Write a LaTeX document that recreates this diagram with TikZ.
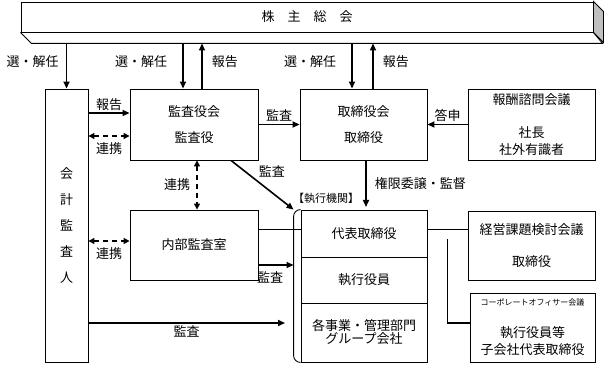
\documentclass[tikz,border=0pt]{standalone}
\usepackage{fontspec}
\setmainfont{Noto Sans CJK JP}
\usetikzlibrary{arrows.meta,positioning,calc}

\begin{document}
\begin{tikzpicture}[x=1pt, y=-1pt,
    box/.style={draw, line width=0.9pt, align=center, inner sep=0pt, font=\fontsize{13}{17}\selectfont},
    arr/.style={-{Triangle[length=7pt,width=6pt]}, line width=1.6pt},
    darr/.style={{Triangle[length=6pt,width=6pt]}-{Triangle[length=6pt,width=6pt]}, line width=1.6pt, dash pattern=on 5pt off 4pt},
    lin/.style={line width=1.6pt},
    lbl/.style={font=\fontsize{13}{15}\selectfont, inner sep=2pt}
]
\useasboundingbox (0,0) rectangle (605,366);

\node[box, minimum width=572pt, minimum height=30pt] (kabunushi) at (307,17) {株\quad 主\quad 総\quad 会};
\node[box, minimum width=43pt, minimum height=273pt] (kaikei) at (66.5,225.5) {会\\[9pt]計\\[9pt]監\\[9pt]査\\[9pt]人};
\node[box, minimum width=128pt, minimum height=71pt] (kansa) at (194,124.5) {監査役会\\[9pt]監査役};
\node[box, minimum width=127pt, minimum height=71pt] (torishimari) at (363.5,124.5) {取締役会\\[9pt]取締役};
\node[box, minimum width=127pt, minimum height=71pt] (houshu) at (531.5,124.5) {報酬諮問会議\\[16pt]社長\\社外有識者};
\node[box, minimum width=128pt, minimum height=70pt] (naibu) at (194,245) {内部監査室};
\node[box, minimum width=126pt, minimum height=47pt] (daihyo) at (364,233.5) {代表取締役};
\node[box, minimum width=126pt, minimum height=46pt] (shikko) at (364,280) {執行役員};
\node[box, minimum width=126pt, minimum height=59pt] (kaku) at (364,332.5) {各事業・管理部門\\[-4pt]グループ会社};
\node[box, minimum width=127pt, minimum height=69pt] (keiei) at (531.5,245.5) {経営課題検討会議\\[15pt]取締役};
\node[box, minimum width=125pt, minimum height=69pt] (corp) at (532.5,327.5) {{\fontsize{8}{10}\selectfont コーポレートオフィサー会議}\\[15pt]執行役員等\\子会社代表取締役};
\node[font=\fontsize{11}{13}\selectfont, inner sep=0pt] (kikan) at (326,198) {【執行機関】};

\draw[line width=0.9pt, fill=black!25] (kabunushi.north east) -- ++(10,10) -- ++(0,31) -- (kabunushi.south east) -- cycle;
\draw[line width=0.9pt] (kabunushi.south west) -- ++(11,11) -- ++(571,0) -- (kabunushi.south east);
\draw[line width=0.9pt, rounded corners=7pt] (daihyo.north west) -| ([xshift=-7pt]kaku.south west) -- (kaku.south west);

\coordinate (base) at ([yshift=-11pt]kabunushi.south);
\coordinate (link) at (0,229.5);
\coordinate (brk) at ([xshift=-7pt]daihyo.north west);
\coordinate (kansa-in) at ([xshift=-11pt]kansa.north);
\coordinate (kansa-out) at ([xshift=8pt]kansa.north);
\coordinate (tori-in) at ([xshift=-11.5pt]torishimari.north);
\coordinate (tori-out) at ([xshift=9.5pt]torishimari.north);
\coordinate (kengen-in) at (366,207);
\coordinate (kaku-in) at (285,323);
\coordinate (branch) at ($(daihyo.east)!0.5!(keiei.west)$ |- link);

\draw[arr] (kaikei.north |- base) -- node[lbl, left=5pt, pos=0.4] {選・解任} (kaikei.north);
\draw[arr] (kansa-in |- base) -- node[lbl, left=13pt, pos=0.4] {選・解任} (kansa-in);
\draw[arr] (kansa-out) -- node[lbl, right=7pt, pos=0.6] {報告} (kansa-out |- base);
\draw[arr] (tori-in |- base) -- node[lbl, left=13pt, pos=0.4] {選・解任} (tori-in);
\draw[arr] (tori-out) -- node[lbl, right=7pt, pos=0.6] {報告} (tori-out |- base);

\draw[arr] ([yshift=11.5pt]kansa.west -| kaikei.east) -- node[lbl, above] {報告} ([yshift=11.5pt]kansa.west);
\draw[darr] ([yshift=-11.5pt]kansa.west -| kaikei.east) -- node[lbl, below=4pt] {連携} ([yshift=-11.5pt]kansa.west);
\draw[arr] (kansa) -- node[lbl, above] {監査} (torishimari);
\draw[arr] (houshu) -- node[lbl, above] {答申} (torishimari);
\draw[arr] ([xshift=37pt]kansa.south) -- node[lbl, above right, pos=0.4] {監査} (brk);
\draw[darr] ([xshift=3pt]kansa.south) -- node[lbl, left=4pt] {連携} ([xshift=3pt]naibu.north);
\draw[darr] ([yshift=4pt]naibu.west -| kaikei.east) -- node[lbl, below=4pt] {連携} ([yshift=4pt]naibu.west);
\draw[lin] (naibu.east |- link) -- (daihyo.west |- link);
\draw[arr] ([yshift=-20pt]naibu.east) -- node[lbl, below=4pt, xshift=-6pt] {監査} ([yshift=-20pt]naibu.east -| brk);
\draw[arr] (kaikei.east |- kaku-in) -- node[lbl, below] {監査} (kaku-in);
\draw[arr] (torishimari.south -| kengen-in) -- node[lbl, right=6pt] {権限委譲・監督} (kengen-in);
\draw[lin] (daihyo.east |- link) -- (keiei.west |- link);
\draw[lin] (branch) |- ([yshift=4.5pt]corp.west);
\end{tikzpicture}
\end{document}
